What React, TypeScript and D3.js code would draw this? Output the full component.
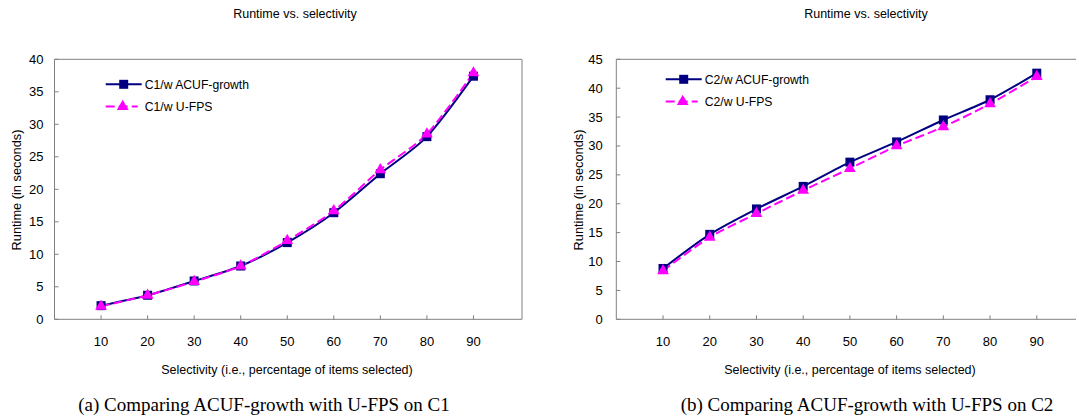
import React from "react";
import * as d3 from "d3";

const selectivity = [10, 20, 30, 40, 50, 60, 70, 80, 90];
const c1Acuf = [2.1, 3.7, 5.9, 8.2, 11.8, 16.4, 22.4, 28.1, 37.4];
const c1Ufps = [2.0, 3.7, 5.8, 8.2, 12.1, 16.7, 23.0, 28.5, 37.9];
const c2Acuf = [8.8, 14.7, 19.1, 23.0, 27.2, 30.7, 34.5, 38.0, 42.6];
const c2Ufps = [8.4, 14.2, 18.3, 22.3, 26.1, 30.0, 33.3, 37.3, 42.0];
const yTicks1 = [0, 5, 10, 15, 20, 25, 30, 35, 40];
const yTicks2 = [0, 5, 10, 15, 20, 25, 30, 35, 40, 45];

const NAVY = "#000080";
const MAGENTA = "#FF00FF";
const AXIS = "#808080";
const FONT = "Arial, 'Liberation Sans', sans-serif";

type PanelProps = {
  x0: number;
  x1: number;
  yMax: number;
  yTicks: number[];
  acuf: number[];
  ufps: number[];
  prefix: string;
  titleX: number;
  yTitleX: number;
  yLabelGap: number;
  xTitleX: number;
  captionX: number;
  caption: string;
  legendX: number;
  legendY: number;
  closeRight: boolean;
};

function Panel(p: PanelProps) {
  const top = 59.3;
  const bottom = 319.3;
  const x = d3.scaleLinear().domain([0, 100]).range([p.x0, p.x1]);
  const y = d3.scaleLinear().domain([0, p.yMax]).range([bottom, top]);
  const line = d3
    .line<number>()
    .x((_, i) => x(selectivity[i]))
    .y((d) => y(d))
    .curve(d3.curveCardinal.tension(0.2));
  const tri = d3.symbol().type(d3.symbolTriangle).size(60)();
  const rightEdge = p.closeRight ? p.x1 + 2 : 1076;
  const ms = 9;
  return (
    <g>
      <text x={p.titleX} y={18} textAnchor="middle" fontFamily={FONT} fontSize={12.5} fill="#000">
        Runtime vs. selectivity
      </text>
      <line x1={p.x0} x2={rightEdge} y1={top} y2={top} stroke={AXIS} strokeWidth={1} />
      {p.closeRight && (
        <line x1={rightEdge} x2={rightEdge} y1={top} y2={bottom} stroke={AXIS} strokeWidth={1} />
      )}
      <line x1={p.x0} x2={p.x0} y1={top} y2={bottom} stroke={AXIS} strokeWidth={1} />
      <line x1={p.x0} x2={rightEdge} y1={bottom} y2={bottom} stroke={AXIS} strokeWidth={1} />
      {p.yTicks.map((t) => (
        <g key={"y" + t}>
          <line x1={p.x0} x2={p.x0 + 4} y1={y(t)} y2={y(t)} stroke={AXIS} />
          <text x={p.x0 - p.yLabelGap} y={y(t) + 4.5} textAnchor="end" fontFamily={FONT} fontSize={13} fill="#000">
            {t}
          </text>
        </g>
      ))}
      {selectivity.map((s) => (
        <g key={"x" + s}>
          <line x1={x(s)} x2={x(s)} y1={bottom} y2={bottom - 4} stroke={AXIS} />
          <text x={x(s)} y={346} textAnchor="middle" fontFamily={FONT} fontSize={13} fill="#000">
            {s}
          </text>
        </g>
      ))}
      <text
        transform={`translate(${p.yTitleX},${190}) rotate(-90)`}
        textAnchor="middle"
        fontFamily={FONT}
        fontSize={12.8}
        fill="#000"
        dy="0.35em"
      >
        Runtime (in seconds)
      </text>
      <text x={p.xTitleX} y={374} textAnchor="middle" fontFamily={FONT} fontSize={12.5} fill="#000">
        Selectivity (i.e., percentage of items selected)
      </text>
      <text x={p.captionX} y={411} textAnchor="middle" fontFamily="'Liberation Serif', 'Times New Roman', serif" fontSize={19} fill="#000">
        {p.caption}
      </text>
      <path d={line(p.acuf) || ""} fill="none" stroke={NAVY} strokeWidth={2} />
      <path d={line(p.ufps) || ""} fill="none" stroke={MAGENTA} strokeWidth={2} strokeDasharray="9,4" />
      {p.acuf.map((v, i) => (
        <rect key={"a" + i} x={x(selectivity[i]) - ms / 2} y={y(v) - ms / 2} width={ms} height={ms} fill={NAVY} />
      ))}
      {p.ufps.map((v, i) => (
        <path key={"u" + i} d={tri || ""} transform={`translate(${x(selectivity[i])},${y(v)})`} fill={MAGENTA} />
      ))}
      <g>
        <line x1={p.legendX} x2={p.legendX + 36} y1={p.legendY} y2={p.legendY} stroke={NAVY} strokeWidth={2} />
        <rect x={p.legendX + 18 - ms / 2} y={p.legendY - ms / 2} width={ms} height={ms} fill={NAVY} />
        <text x={p.legendX + 39} y={p.legendY + 4.5} fontFamily={FONT} fontSize={12.2} fill="#000">
          {p.prefix}/w ACUF-growth
        </text>
        <line
          x1={p.legendX}
          x2={p.legendX + 32}
          y1={p.legendY + 22.3}
          y2={p.legendY + 22.3}
          stroke={MAGENTA}
          strokeWidth={2}
          strokeDasharray="9,4"
        />
        <path d={tri || ""} transform={`translate(${p.legendX + 17},${p.legendY + 22.3})`} fill={MAGENTA} />
        <text x={p.legendX + 39} y={p.legendY + 22.3 + 4.5} fontFamily={FONT} fontSize={12.2} fill="#000">
          {p.prefix}/w U-FPS
        </text>
      </g>
    </g>
  );
}

export default function App() {
  return (
    <svg
      width={1076}
      height={420}
      style={{ position: "absolute", left: 0, top: 0, background: "#fff" }}
    >
      <rect width={1076} height={420} fill="#fff" />
      <Panel
        x0={54.5}
        x1={520}
        yMax={40}
        yTicks={yTicks1}
        acuf={c1Acuf}
        ufps={c1Ufps}
        prefix="C1"
        titleX={295}
        yTitleX={16.5}
        yLabelGap={11}
        xTitleX={287}
        captionX={264}
        caption="(a) Comparing ACUF-growth with U-FPS on C1"
        legendX={105.7}
        legendY={84.3}
        closeRight={true}
      />
      <Panel
        x0={616.3}
        x1={1083.5}
        yMax={45}
        yTicks={yTicks2}
        acuf={c2Acuf}
        ufps={c2Ufps}
        prefix="C2"
        titleX={866}
        yTitleX={579}
        yLabelGap={13.5}
        xTitleX={850}
        captionX={867}
        caption="(b) Comparing ACUF-growth with U-FPS on C2"
        legendX={665.7}
        legendY={79.3}
        closeRight={false}
      />
    </svg>
  );
}
